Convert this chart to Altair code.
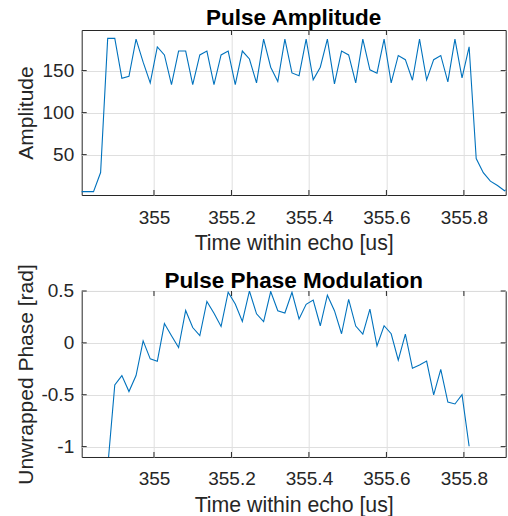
import altair as alt
import pandas as pd

# ---------------- data ----------------
time_us = [354.8073, 354.8256, 354.8439, 354.8622, 354.8805, 354.8988, 354.9171, 354.9354,
           354.9537, 354.9720, 354.9903, 355.0086, 355.0269, 355.0452, 355.0635, 355.0818,
           355.1000, 355.1183, 355.1366, 355.1549, 355.1732, 355.1915, 355.2098, 355.2281,
           355.2464, 355.2647, 355.2830, 355.3013, 355.3196, 355.3379, 355.3562, 355.3745,
           355.3928, 355.4110, 355.4293, 355.4476, 355.4659, 355.4842, 355.5025, 355.5208,
           355.5391, 355.5574, 355.5757, 355.5940, 355.6123, 355.6306, 355.6489, 355.6672,
           355.6855, 355.7038, 355.7220, 355.7403, 355.7586, 355.7769, 355.7952, 355.8135,
           355.8318, 355.8501, 355.8684, 355.8867, 355.9050, 355.9233]

amplitude = [6, 6, 6, 28.7, 188.3, 188.3, 140.9, 143.3, 187.5, 160, 135.4, 178.1, 168.6,
             133.4, 173.3, 173.3, 133.4, 168.6, 173.3, 133.4, 168.6, 173.3, 133.4, 173.3,
             163.8, 135.4, 187.5, 154, 137, 187.5, 147.2, 144, 187.5, 139, 154, 187.5,
             134.2, 173.3, 168.6, 135.4, 187.5, 151, 147, 187.5, 135.4, 168, 163, 138.5,
             187.5, 139, 163, 168, 136.5, 187.5, 141.3, 178.3, 45.3, 28.5, 18.5, 13.3, 7, 12]

phase_time_us = time_us[4:56]
phase_rad = [-1.2, -0.405, -0.315, -0.469, -0.315, 0.019, -0.154, -0.177, 0.186, 0.068,
             -0.045, 0.312, 0.148, 0.071, 0.399, 0.285, 0.158, 0.488, 0.375, 0.207, 0.5,
             0.28, 0.204, 0.495, 0.31, 0.288, 0.488, 0.23, 0.372, 0.413, 0.165, 0.46, 0.31,
             0.088, 0.42, 0.162, 0.085, 0.326, -0.029, 0.165, 0.088, -0.167, 0.084, -0.245,
             -0.213, -0.175, -0.502, -0.255, -0.57, -0.589, -0.5, -0.996]

x_ticks = [355.0, 355.2, 355.4, 355.6, 355.8]
amp_ticks = [50, 100, 150]
phase_ticks = [-1.0, -0.5, 0.0, 0.5]

x_domain = [354.8134, 355.9079]
amp_domain = [2, 198.3]
phase_domain = [-1.1, 0.5]

# ---------------- styling ----------------
FONT = "Liberation Sans"
AX = "#262626"
GRID = "#dfdfdf"
BLUE = "#0072BD"
W = 424


def panel(t, vals, ydomain, yticks, ytitle, title, H, title_offset):
    df = pd.DataFrame({"t": t, "v": vals})
    xs = alt.Scale(domain=x_domain, nice=False, zero=False)
    ys = alt.Scale(domain=ydomain, nice=False, zero=False)
    xaxis = alt.Axis(
        values=x_ticks, title="Time within echo [us]", grid=True, gridColor=GRID,
        gridWidth=1, domain=False, ticks=False, labelPadding=28,
        labelBaseline="alphabetic", labelFont=FONT, labelFontSize=19, labelColor=AX,
        labelExpr="'' + datum.value", labelFlush=False, labelOverlap=False,
        titleFont=FONT, titleFontSize=21.3, titleFontWeight="normal", titleColor=AX,
        titleBaseline="alphabetic", titleY=54.5, titleX=W / 2, titleAlign="center",
    )
    yaxis = alt.Axis(
        values=yticks, title=ytitle, grid=True, gridColor=GRID, gridWidth=1,
        domain=False, ticks=False, labelPadding=8, labelFont=FONT,
        labelFontSize=19, labelColor=AX, labelExpr="'' + datum.value",
        labelFlush=False, labelOverlap=False,
        titleFont=FONT, titleFontSize=21, titleFontWeight="normal", titleColor=AX,
        titleX=-49, titleY=H / 2, titleBaseline="alphabetic", titleAlign="center",
        titleAngle=270,
    )
    line = alt.Chart(df).mark_line(color=BLUE, strokeWidth=1.1, clip=True).encode(
        x=alt.X("t:Q", scale=xs, axis=xaxis),
        y=alt.Y("v:Q", scale=ys, axis=yaxis),
    )
    xt = pd.DataFrame({"t": x_ticks})
    yt = pd.DataFrame({"v": yticks})
    x_bot = alt.Chart(xt).mark_rule(color=AX, strokeWidth=1).encode(
        x=alt.X("t:Q", scale=xs), y=alt.value(H), y2=alt.value(H - 5))
    x_top = alt.Chart(xt).mark_rule(color=AX, strokeWidth=1).encode(
        x=alt.X("t:Q", scale=xs), y=alt.value(0), y2=alt.value(5))
    y_left = alt.Chart(yt).mark_rule(color=AX, strokeWidth=1).encode(
        y=alt.Y("v:Q", scale=ys), x=alt.value(0), x2=alt.value(5))
    y_right = alt.Chart(yt).mark_rule(color=AX, strokeWidth=1).encode(
        y=alt.Y("v:Q", scale=ys), x=alt.value(W - 5), x2=alt.value(W))
    return alt.layer(line, x_bot, x_top, y_left, y_right).properties(
        width=W, height=H,
        title=alt.TitleParams(title, font=FONT, fontSize=22.5, fontWeight="bold",
                              color="black", anchor="middle", frame="group",
                              offset=title_offset, baseline="alphabetic"),
    )


top = panel(time_us, amplitude, amp_domain, amp_ticks, "Amplitude",
            "Pulse Amplitude", 165, -17.7)
bottom = panel(phase_time_us, phase_rad, phase_domain, phase_ticks,
               "Unwrapped Phase [rad]", "Pulse Phase Modulation", 166, -46.5)

chart = alt.vconcat(top, bottom, spacing=96, bounds="flush").properties(
    padding={"left": 14.7, "top": 6, "right": 0, "bottom": 0},
    background="white",
).configure_view(stroke=AX, strokeWidth=1)

chart.save("out.html", embed_options={"renderer": "svg", "actions": False})
